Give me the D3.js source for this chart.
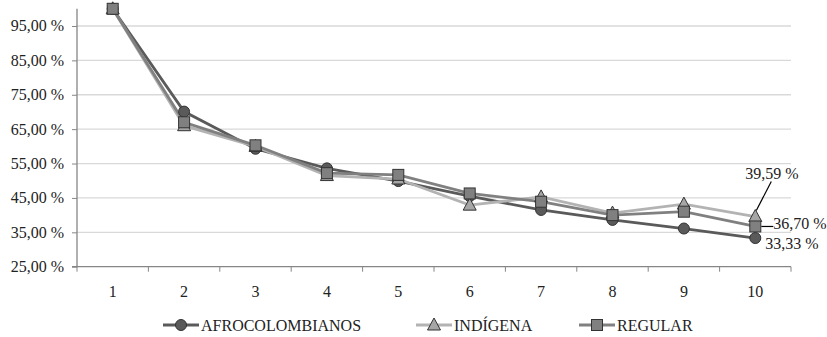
<!DOCTYPE html>
<html><head><meta charset="utf-8">
<script src="https://cdn.jsdelivr.net/npm/d3@7"></script>
<style>svg text, text { font-family: "Liberation Serif", "Times New Roman", Tinos, serif !important; }</style>
</head><body style="margin:0">
<svg id="c" width="827" height="337"></svg>
<script>
const categories = [1,2,3,4,5,6,7,8,9,10];
const afro = [100, 70.1, 59.3, 53.6, 49.9, 45.5, 41.5, 38.6, 36.1, 33.33];
const indigena = [100, 66.0, 60.0, 51.5, 50.5, 42.9, 45.3, 40.6, 43.2, 39.59];
const regular = [100, 67.0, 60.3, 52.2, 51.7, 46.3, 43.9, 40.0, 41.0, 36.70];
const yTicks = [25,35,45,55,65,75,85,95];
const seriesNames = ["AFROCOLOMBIANOS","INDÍGENA","REGULAR"];

const FONT = '"Liberation Serif"';
const svg = d3.select("#c");
const L=77, R=791, T=8.8, B=266.7;
const x = d3.scaleBand().domain(categories).range([L,R]);
const y = d3.scaleLinear().domain([25,100]).range([B,T]);
const addText = (sel,xx,yy,t,fs,anchor)=>sel.append("text").attr("x",xx).attr("y",yy)
  .style("font-family",FONT).attr("font-size",fs).attr("fill","#222").attr("text-anchor",anchor||"start").text(t);

svg.append("g").selectAll("line").data(yTicks.slice(1)).join("line")
  .attr("x1",L).attr("x2",R).attr("y1",d=>y(d)).attr("y2",d=>y(d))
  .attr("stroke","#d9d9d9").attr("stroke-width",1.3);

// y axis (built with axis for ticks; labels drawn as plain text)
const ya = svg.append("g").attr("transform",`translate(${L},0)`)
  .call(d3.axisLeft(y).tickValues(yTicks).tickSize(5).tickFormat(""));
ya.select(".domain").attr("stroke","#868686").attr("stroke-width",1.3).attr("d",`M-5,${B}H0V${T}`);
ya.selectAll(".tick line").attr("stroke","#868686");
ya.selectAll(".tick text").remove();
yTicks.forEach(v=>addText(svg, L-13, y(v)+5.5, v.toFixed(2).replace(".",",")+" %", 16, "end"));

const xa = svg.append("g").attr("transform",`translate(0,${B})`);
xa.append("line").attr("x1",L).attr("x2",R).attr("stroke","#868686").attr("stroke-width",1.3);
const bounds = categories.map(c=>x(c)).concat([R]);
xa.selectAll("line.t").data(bounds).join("line").attr("class","t")
  .attr("x1",d=>d).attr("x2",d=>d).attr("y1",0).attr("y2",5).attr("stroke","#868686");
categories.forEach(c=>addText(svg, x(c)+x.bandwidth()/2, B+30, String(c), 16, "middle"));

const cx = d=>x(d)+x.bandwidth()/2;
const line = d3.line().x((d,i)=>cx(categories[i])).y(d=>y(d));
const series = [
  {name:seriesNames[1], vals:indigena, col:"#b3b3b3", fill:"#a6a6a6", shape:"tri"},
  {name:seriesNames[2], vals:regular, col:"#808080", fill:"#808080", shape:"sq"},
  {name:seriesNames[0], vals:afro, col:"#5a5a5a", fill:"#5a5a5a", shape:"circ"},
];
function marker(g, shape, fill){
  if(shape==="circ") g.append("circle").attr("r",5.5).attr("fill",fill).attr("stroke","#333").attr("stroke-width",1);
  else if(shape==="sq") g.append("rect").attr("x",-5.5).attr("y",-5.5).attr("width",11).attr("height",11).attr("fill",fill).attr("stroke","#333").attr("stroke-width",1);
  else g.append("path").attr("d","M0,-7L6.5,5L-6.5,5Z").attr("fill",fill).attr("stroke","#333").attr("stroke-width",1);
}
const order = [series[2], series[0], series[1]];
order.forEach(s=>{
  svg.append("path").datum(s.vals).attr("d",line).attr("fill","none").attr("stroke",s.col).attr("stroke-width",2.8);
});
order.forEach(s=>{
  s.vals.forEach((v,i)=>{
    const g = svg.append("g").attr("transform",`translate(${cx(categories[i])},${y(v)})`);
    marker(g, s.shape, s.fill);
  });
});

const fmt = v=>v.toFixed(2).replace(".",",")+" %";
const x10 = cx(10);
svg.append("line").attr("x1",x10+16).attr("y1",y(39.59)-35).attr("x2",x10+1).attr("y2",y(39.59)-6).attr("stroke","#000").attr("stroke-width",1.2);
addText(svg, x10-10, y(39.59)-38, fmt(indigena[9]), 16);
svg.append("line").attr("x1",x10+6).attr("y1",y(36.70)).attr("x2",x10+18).attr("y2",y(36.70)).attr("stroke","#000").attr("stroke-width",1.2);
addText(svg, x10+18, y(36.70)+3, fmt(regular[9]), 16);
addText(svg, x10+10, y(33.33)+11, fmt(afro[9]), 16);

const leg = [
  {name:seriesNames[0], col:"#5a5a5a", fill:"#5a5a5a", shape:"circ", x:163},
  {name:seriesNames[1], col:"#b3b3b3", fill:"#a6a6a6", shape:"tri", x:416},
  {name:seriesNames[2], col:"#808080", fill:"#808080", shape:"sq", x:579},
];
const ly = 325;
leg.forEach(l=>{
  svg.append("line").attr("x1",l.x).attr("x2",l.x+36).attr("y1",ly).attr("y2",ly).attr("stroke",l.col).attr("stroke-width",2.8);
  const g = svg.append("g").attr("transform",`translate(${l.x+18},${ly})`);
  marker(g,l.shape,l.fill);
  addText(svg, l.x+38, ly+5.5, l.name, 16);
});
</script></body></html>
